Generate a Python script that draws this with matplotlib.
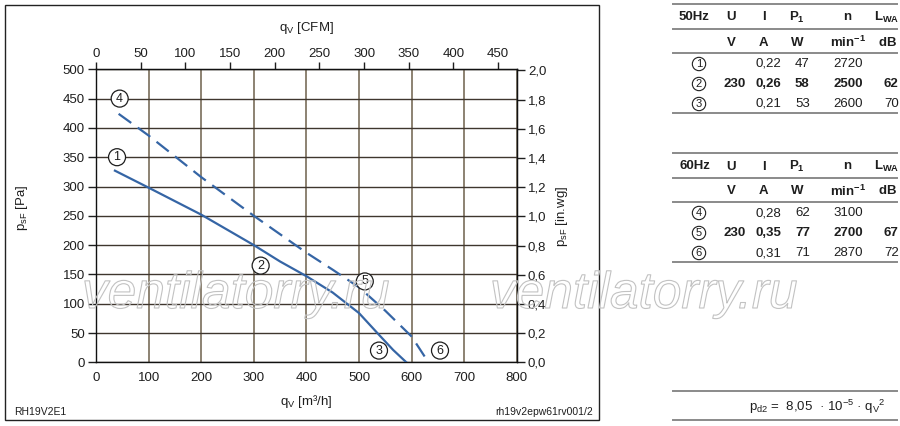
import matplotlib
matplotlib.use("Agg")
import matplotlib.pyplot as plt
import matplotlib.patheffects as pe
from matplotlib.patches import Rectangle
from matplotlib.lines import Line2D
from matplotlib.ticker import FuncFormatter

plt.rcParams['font.family'] = ['Liberation Sans', 'DejaVu Sans']
plt.rcParams['mathtext.fontset'] = 'custom'
plt.rcParams['mathtext.rm'] = 'Liberation Sans'
plt.rcParams['mathtext.it'] = 'Liberation Sans:italic'
plt.rcParams['mathtext.bf'] = 'Liberation Sans:bold'

# Kennlinien
q_50 = [36, 100, 200, 300, 350, 400, 450, 500, 540, 565, 590]
p_50 = [327, 298, 252, 200, 172, 147, 119, 84, 45, 21, 0]
q_60 = [43, 100, 200, 300, 400, 450, 500, 550, 600, 632]
p_60 = [424, 387, 316, 250, 187, 158, 128, 88, 44, 0]

# Betriebspunkte
pt_labels = ['1', '2', '3', '4', '5', '6']
pt_q = [40, 313, 538, 45, 511, 654]
pt_p = [350, 165, 20, 450, 138, 20]

x_ticks = [0, 100, 200, 300, 400, 500, 600, 700, 800]
y_ticks = [0, 50, 100, 150, 200, 250, 300, 350, 400, 450, 500]
cfm_ticks = [0, 50, 100, 150, 200, 250, 300, 350, 400, 450]
inwg_ticks = [0.0, 0.2, 0.4, 0.6, 0.8, 1.0, 1.2, 1.4, 1.6, 1.8, 2.0]

# Tabellen
cols_head = ['U', 'I', 'P_1', 'n', 'L_{WA}']
cols_unit = ['V', 'A', 'W', 'min^{-1}', 'dB']
rows_50 = [['1', '', '0,22', '47', '2720', ''],
           ['2', '230', '0,26', '58', '2500', '62'],
           ['3', '', '0,21', '53', '2600', '70']]
rows_60 = [['4', '', '0,28', '62', '3100', ''],
           ['5', '230', '0,35', '77', '2700', '67'],
           ['6', '', '0,31', '71', '2870', '72']]

W, H = 900, 426
fig = plt.figure(figsize=(9, 4.26), dpi=100)
fig.patch.set_facecolor('white')


def px(x, y):
    return x / W, 1 - y / H


blue = '#3565a5'
txt = '#1e1e1e'

ax = fig.add_axes([96 / W, (H - 362.3) / H, 420.8 / W, 293 / H])
ax.set_xlim(0, 800)
ax.set_ylim(0, 500)
ax.set_xticks(x_ticks)
ax.set_yticks(y_ticks)
ax.xaxis.grid(True, color='#8c8272', lw=1.4)
ax.yaxis.grid(True, color='#3f362e', lw=1.0)
ax.set_axisbelow(True)
ax.tick_params(axis='x', length=0, pad=7, labelsize=9.5, colors=txt)
ax.tick_params(axis='y', length=6, width=1, direction='out', pad=2,
               labelsize=9.5, colors=txt)
for s in ax.spines.values():
    s.set_color('#111111')
    s.set_linewidth(1.0)

ax.plot(q_50, p_50, color=blue, lw=1.6, zorder=3)
l2, = ax.plot(q_60, p_60, color=blue, lw=1.6, zorder=3)
l2.set_dashes((7, 3.6))

for lab, q, p in zip(pt_labels, pt_q, pt_p):
    ax.text(q, p, lab, ha='center', va='center', fontsize=9, color=txt, zorder=5,
            bbox=dict(boxstyle='circle,pad=0.2', fc='white', ec=txt, lw=0.9))

# sekundaere Achsen
top = ax.secondary_xaxis('top', functions=(lambda v: v * 0.588578, lambda v: v / 0.588578))
top.set_xticks(cfm_ticks)
top.tick_params(length=5, width=1, direction='out', pad=2, labelsize=9.5, colors=txt)
top.spines['top'].set_color('#111111')

right = ax.secondary_yaxis('right', functions=(lambda v: v / 249.09, lambda v: v * 249.09))
right.set_yticks(inwg_ticks)
right.yaxis.set_major_formatter(FuncFormatter(lambda v, pos: f'{v:.1f}'.replace('.', ',')))
right.tick_params(length=6, width=1, direction='out', pad=2, labelsize=9.5, colors=txt)

fig.text(*px(306, 28), r'$\mathrm{q_V}$ [CFM]', ha='center', va='center', fontsize=9.5, color=txt)
fig.text(*px(306, 402), r'$\mathrm{q_V}$ [m³/h]', ha='center', va='center', fontsize=9.5, color=txt)
fig.text(*px(22, 208), r'$\mathrm{p_{sF}}$ [Pa]', ha='center', va='center', rotation=90,
         fontsize=9.5, color=txt)
fig.text(*px(562, 216), r'$\mathrm{p_{sF}}$ [in.wg]', ha='center', va='center', rotation=90,
         fontsize=9.5, color=txt)
fig.text(*px(14, 412), 'RH19V2E1', ha='left', va='center', fontsize=7.5, color=txt)
fig.text(*px(593, 412), 'rh19v2epw61rv001/2', ha='right', va='center', fontsize=7.5, color=txt)

fig.patches.append(Rectangle((5 / W, 6 / H), 594 / W, 415 / H, transform=fig.transFigure,
                             fill=False, ec='#222222', lw=1.0))

# Wasserzeichen
for x0 in [82, 490]:
    fig.text(*px(x0, 308), 'ventilatorry.ru', ha='left', va='baseline', fontsize=37,
             style='italic', color=(1, 1, 1, 0), zorder=4,
             path_effects=[pe.withStroke(linewidth=0.8, foreground='#c2c2c2')])


# Tabellen
def hline(y):
    fig.add_artist(Line2D([673 / W, 897 / W], [1 - y / H, 1 - y / H], color='#8a8a8a', lw=1.4))


head_x = [731, 764, 797, 848, 887]
data_x = [723, 756, 795, 833, 884]


def table(y0, freq, rows):
    hline(y0)
    fig.text(*px(679, y0 + 13), freq, ha='left', va='center', fontsize=9.5,
             fontweight='bold', color=txt)
    for hx, h in zip(head_x, cols_head):
        fig.text(*px(hx, y0 + 13), r'$\mathbf{' + h + '}$', ha='center', va='center',
                 fontsize=9.5, color=txt)
    hline(y0 + 25)
    for hx, u in zip(head_x, cols_unit):
        fig.text(*px(hx, y0 + 38), r'$\mathbf{' + u + '}$', ha='center', va='center',
                 fontsize=9.5, color=txt)
    hline(y0 + 49)
    for i, row in enumerate(rows):
        yy = y0 + 60 + 20 * i
        fw = 'bold' if i == 1 else 'normal'
        fig.text(*px(699, yy), row[0], ha='center', va='center', fontsize=8, color=txt,
                 bbox=dict(boxstyle='circle,pad=0.15', fc='white', ec=txt, lw=0.8))
        for dx, v in zip(data_x, row[1:]):
            fig.text(*px(dx, yy), v, ha='left', va='center', fontsize=9.5,
                     fontweight=fw, color=txt)
    hline(y0 + 109)


table(4, '50Hz', rows_50)
table(153, '60Hz', rows_60)

hline(391)
fig.text(*px(817, 407), r'$\mathrm{p_{d2}}$ =  8,05  · 10$^{-5}$ · $\mathrm{q_V}^2$',
         ha='center', va='center', fontsize=9.5, color=txt)
hline(420)

fig.savefig('out.png', dpi=100)
